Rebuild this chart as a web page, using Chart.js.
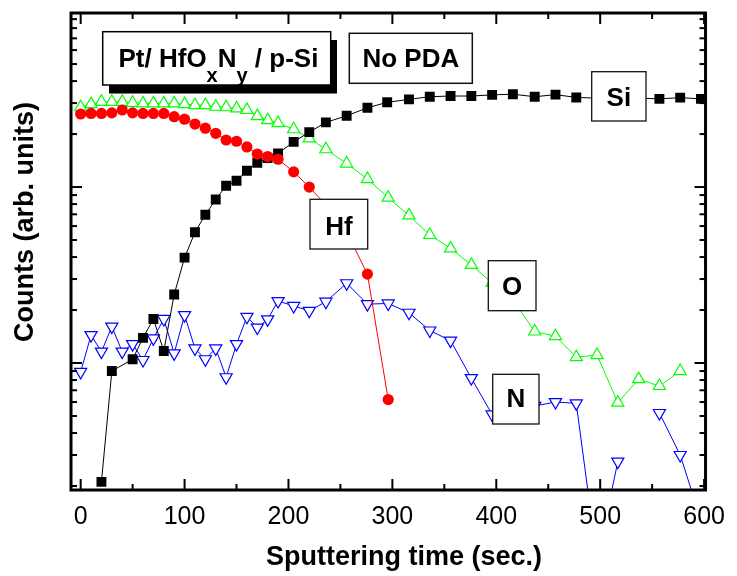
<!DOCTYPE html>
<html>
<head>
<meta charset="utf-8">
<title>Pt/HfOxNy/p-Si depth profile</title>
<script src="https://cdn.jsdelivr.net/npm/chart.js@4.4.1/dist/chart.umd.min.js"></script>
<style>
html,body{margin:0;padding:0;background:#fff;}
</style>
</head>
<body>
<canvas id="myChart" width="737" height="576"></canvas>
<script>
// sputtering time (sec.) and counts
var xTicks=[0,100,200,300,400,500,600];

var siTime=[20,30,50,60,70,80,90,100,110,120,130,140,150,160,170,180,190,205,220,236,256,276,295,316,336,356,376,396,416,437,457,477,497,517,537,557,577,597];
var siCounts=[2.11,9.0,10.5,13.9,17.8,11.7,24.5,39.7,55.3,69.6,85,101.7,108.6,123.8,137.4,146,155.4,180.5,205,233,254,282,303,315,326,329,329,334,337,326,335,323,320,322,320,317,322,317];

var hfTime=[0,10,20,30,40,50,60,70,80,90,100,110,120,130,140,150,160,170,180,190,205,220,236,256,276,296];
var hfCounts=[260,262,262,264,274,264,262,262,262,251,243,228,216,202,185,182,169,154,149,144,122,100,79,55.5,32,6.2];

var oTime=[0,10,20,30,40,50,60,70,80,90,100,110,120,130,140,150,160,170,180,190,205,220,236,256,276,296,316,336,356,376,396,416,437,457,477,497,517,537,557,577];
var oCounts=[284,296,305,305,305,301,299,299,299,299,296,292,292,286,284,280,274,253,240,231,213,189,164,136,111,87,69,53.4,44.8,36.1,28.5,22.8,15.1,14.2,10.8,11.1,5.95,8.1,7.4,9.0];

var nTime=[0,10,20,30,40,50,60,70,80,90,100,110,120,130,140,150,160,170,180,190,205,220,236,256,276,296,316,336,356,376,396,416,437,457,477,497,517,537,557,577,597];
var nCounts=[8.9,14.4,11.6,16.1,11.6,12.8,10.4,13.8,17.8,11.35,18.7,12.1,10.5,12.1,8.3,12.8,18.3,15.9,17.7,22.5,21.1,19.8,22.3,28.4,21.6,21.8,19.3,15.3,13.4,8.2,5.1,5.3,5.7,6.0,5.9,0.76,2.75,null,5.2,3.0,1.28];

var FONT='"Liberation Sans", Arial, Helvetica, sans-serif';

function pairs(t,c){
    var out=[];
    for(var i=0;i<t.length;i++){
        out.push({x:t[i],y:c[i]});
    }
    return out;
}

// frame, inward ticks and the text boxes
var decor={
    id:'decor',
    afterDraw:function(chart){
        var ctx=chart.ctx;
        var a=chart.chartArea;
        var xs=chart.scales.x, ys=chart.scales.y;
        ctx.save();
        ctx.strokeStyle='#000';
        ctx.lineWidth=2;
        function seg(x1,y1,x2,y2){
            ctx.beginPath();ctx.moveTo(x1,y1);ctx.lineTo(x2,y2);ctx.stroke();
        }
        for(var v=0;v<=600;v+=50){
            var px=xs.getPixelForValue(v);
            var len=(v%100==0)?11:6;
            seg(px,a.bottom,px,a.bottom-len);
            seg(px,a.top,px,a.top+len);
        }
        var decs=[1,10,100,1000];
        for(var d=0;d<decs.length;d++){
            for(var m=1;m<10;m++){
                var val=m*decs[d];
                if(val<ys.min||val>ys.max) continue;
                var py=ys.getPixelForValue(val);
                var l=(m==1)?11:6;
                seg(a.left,py,a.left+l,py);
                seg(a.right,py,a.right-l,py);
            }
        }
        ctx.lineWidth=3;
        ctx.strokeRect(a.left,a.top,a.right-a.left,a.bottom-a.top);

        // sample box with shadow
        ctx.fillStyle='#000';
        ctx.fillRect(109,40,228,53.5);
        ctx.fillStyle='#fff';
        ctx.fillRect(102.7,31.7,228,53.3);
        ctx.lineWidth=1.5;
        ctx.strokeRect(102.7,31.7,228,53.3);
        var parts=[["Pt/ HfO",0],["x",1],["N",0],["y",1],[" / p-Si",0]];
        var tx=118.5;
        ctx.fillStyle='#000';
        ctx.textAlign='left';
        ctx.textBaseline='alphabetic';
        for(var i=0;i<parts.length;i++){
            ctx.font=parts[i][1]?'bold 20px '+FONT:'bold 26px '+FONT;
            ctx.fillText(parts[i][0],tx,parts[i][1]?82:66.7);
            tx+=ctx.measureText(parts[i][0]).width;
        }

        // label boxes
        var boxes=[
            ["No PDA",349.3,33.3,123,50,66.5,1.5],
            ["Si",591.7,71.7,54.3,49.3,106,1.3],
            ["Hf",310,199.3,57.7,49.7,235,1.3],
            ["O",488.3,260.7,47.7,50,295,1.3],
            ["N",492.7,374.3,46.3,49.7,406.7,1.3]
        ];
        for(var b=0;b<boxes.length;b++){
            var bx=boxes[b];
            ctx.fillStyle='#fff';
            ctx.fillRect(bx[1],bx[2],bx[3],bx[4]);
            ctx.lineWidth=bx[6];
            ctx.strokeStyle='#111';
            ctx.strokeRect(bx[1],bx[2],bx[3],bx[4]);
            ctx.fillStyle='#000';
            ctx.font='bold 26px '+FONT;
            ctx.textAlign='center';
            ctx.fillText(bx[0],bx[1]+bx[3]/2,bx[5]);
        }

        // axis titles
        ctx.font='bold 27px '+FONT;
        ctx.textAlign='center';
        ctx.fillText('Sputtering time (sec.)',404,565);
        ctx.translate(33,222);
        ctx.rotate(-Math.PI/2);
        ctx.fillText('Counts (arb. units)',0,0);
        ctx.restore();
    }
};

var ctx=document.getElementById('myChart').getContext('2d');
var chart=new Chart(ctx,{
    type:'line',
    data:{
        datasets:[
            {
                label:'Hf',
                data:pairs(hfTime,hfCounts),
                borderColor:'#ff0000',
                backgroundColor:'#ff0000',
                borderWidth:1,
                pointStyle:'circle',
                pointRadius:5.6,
                pointBorderWidth:0
            },
            {
                label:'Si',
                data:pairs(siTime,siCounts),
                borderColor:'#000',
                backgroundColor:'#000',
                borderWidth:1,
                pointStyle:'rect',
                pointRadius:7,
                pointBorderWidth:0
            },
            {
                label:'O',
                data:pairs(oTime,oCounts),
                borderColor:'#00ff00',
                backgroundColor:'#fff',
                borderWidth:1,
                pointStyle:'triangle',
                pointRadius:7,
                pointBorderWidth:1.2
            },
            {
                label:'N',
                data:pairs(nTime,nCounts),
                borderColor:'#0000ff',
                backgroundColor:'#fff',
                borderWidth:1,
                pointStyle:'triangle',
                pointRotation:180,
                pointRadius:7,
                pointBorderWidth:1.2,
                spanGaps:false
            }
        ]
    },
    options:{
        responsive:false,
        animation:false,
        layout:{padding:{left:71,right:29,top:13,bottom:0}},
        plugins:{legend:{display:false},tooltip:{enabled:false}},
        elements:{line:{tension:0}},
        scales:{
            x:{
                type:'linear',
                min:-9.3,
                max:601.4,
                grid:{display:false,drawTicks:false},
                border:{display:false},
                afterBuildTicks:function(s){
                    s.ticks=xTicks.map(function(v){return {value:v};});
                },
                afterFit:function(s){ s.height=86; },
                ticks:{
                    autoSkip:false,
                    maxRotation:0,
                    padding:12,
                    color:'#000',
                    font:{family:FONT,size:25}
                }
            },
            y:{
                type:'logarithmic',
                display:false,
                min:1.898,
                max:975
            }
        }
    },
    plugins:[decor]
});
</script>
</body>
</html>
